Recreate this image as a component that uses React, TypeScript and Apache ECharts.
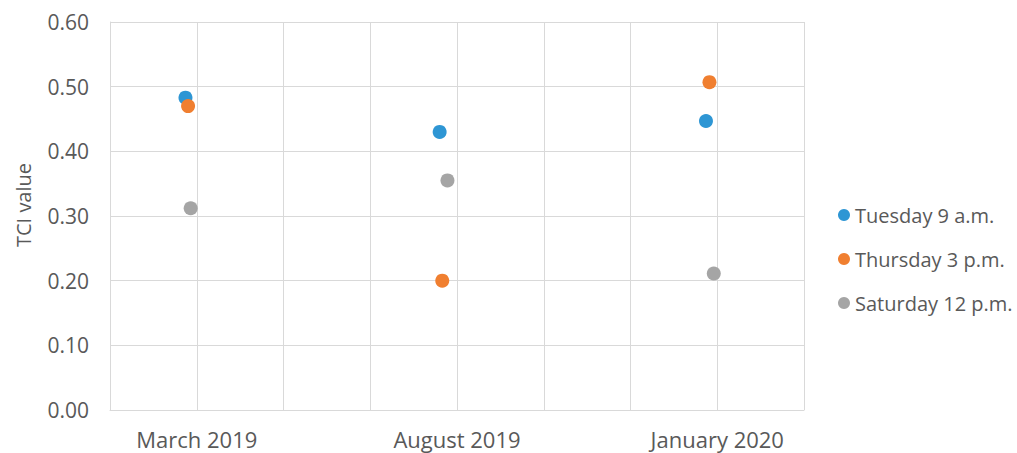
import React, { useEffect, useRef } from "react";
import * as echarts from "echarts";

const categories = ["March 2019", "August 2019", "January 2020"];
const categoryPositions = [1, 4, 7];
const seriesNames = ["Tuesday 9 a.m.", "Thursday 3 p.m.", "Saturday 12 p.m."];
const tuesdayX = [0.87, 3.8, 6.87];
const tuesdayY = [0.483, 0.43, 0.447];
const thursdayX = [0.9, 3.83, 6.91];
const thursdayY = [0.47, 0.2, 0.507];
const saturdayX = [0.93, 3.89, 6.96];
const saturdayY = [0.312, 0.355, 0.211];
const yTicks = [0, 0.1, 0.2, 0.3, 0.4, 0.5, 0.6];

const colors = ["#2E96D4", "#F07F30", "#A5A5A5"];
const FONT = "Open Sans";
const TEXT = "#595959";
const GRID = "#D9D9D9";

export default function App() {
  const ref = useRef<HTMLDivElement>(null);
  useEffect(() => {
    document.body.style.margin = "0";
    const chart = echarts.init(ref.current!, null, { renderer: "svg" });
    const xs = [tuesdayX, thursdayX, saturdayX];
    const ys = [tuesdayY, thursdayY, saturdayY];
    chart.setOption({
      animation: false,
      color: colors,
      grid: { left: 110, right: 213, top: 22, bottom: 43, containLabel: false },
      xAxis: {
        type: "value",
        min: 0,
        max: 8,
        interval: 1,
        axisLine: { show: true, lineStyle: { color: GRID, width: 1 } },
        axisTick: { show: false },
        splitLine: { show: true, lineStyle: { color: GRID, width: 1 } },
        axisLabel: {
          margin: 17,
          color: TEXT,
          fontFamily: FONT,
          fontSize: 22,
          lineHeight: 24,
          showMinLabel: true,
          showMaxLabel: true,
          formatter: (v: number) => {
            const i = categoryPositions.indexOf(Math.round(v));
            return i >= 0 && Math.abs(v - categoryPositions[i]) < 1e-6 ? categories[i] : "";
          },
        },
      },
      yAxis: {
        type: "value",
        min: yTicks[0],
        max: yTicks[yTicks.length - 1],
        interval: 0.1,
        axisLine: { show: true, lineStyle: { color: GRID, width: 1 } },
        axisTick: { show: false },
        splitLine: { show: true, lineStyle: { color: GRID, width: 1 } },
        axisLabel: {
          margin: 21,
          color: TEXT,
          fontFamily: FONT,
          fontSize: 21,
          formatter: (v: number) => v.toFixed(2),
        },
      },
      legend: {
        orient: "vertical",
        left: 833,
        top: 199,
        itemWidth: 12,
        itemHeight: 12,
        itemGap: 22,
        icon: "circle",
        textStyle: { color: TEXT, fontFamily: FONT, fontSize: 20, lineHeight: 22 },
        data: seriesNames,
      },
      graphic: [
        {
          type: "text",
          x: 23,
          y: 205,
          rotation: Math.PI / 2,
          style: {
            text: "TCI value",
            align: "center",
            verticalAlign: "middle",
            fill: TEXT,
            fontFamily: FONT,
            fontSize: 20,
          },
        },
      ],
      series: seriesNames.map((name, s) => ({
        name,
        type: "scatter",
        symbol: "circle",
        symbolSize: 14,
        itemStyle: { color: colors[s], opacity: 1 },
        data: xs[s].map((x, i) => [x, ys[s][i]]),
      })),
    });
    return () => chart.dispose();
  }, []);
  return (
    <div
      ref={ref}
      style={{ position: "absolute", left: 0, top: 0, width: 1017, height: 453, background: "#fff" }}
    />
  );
}
